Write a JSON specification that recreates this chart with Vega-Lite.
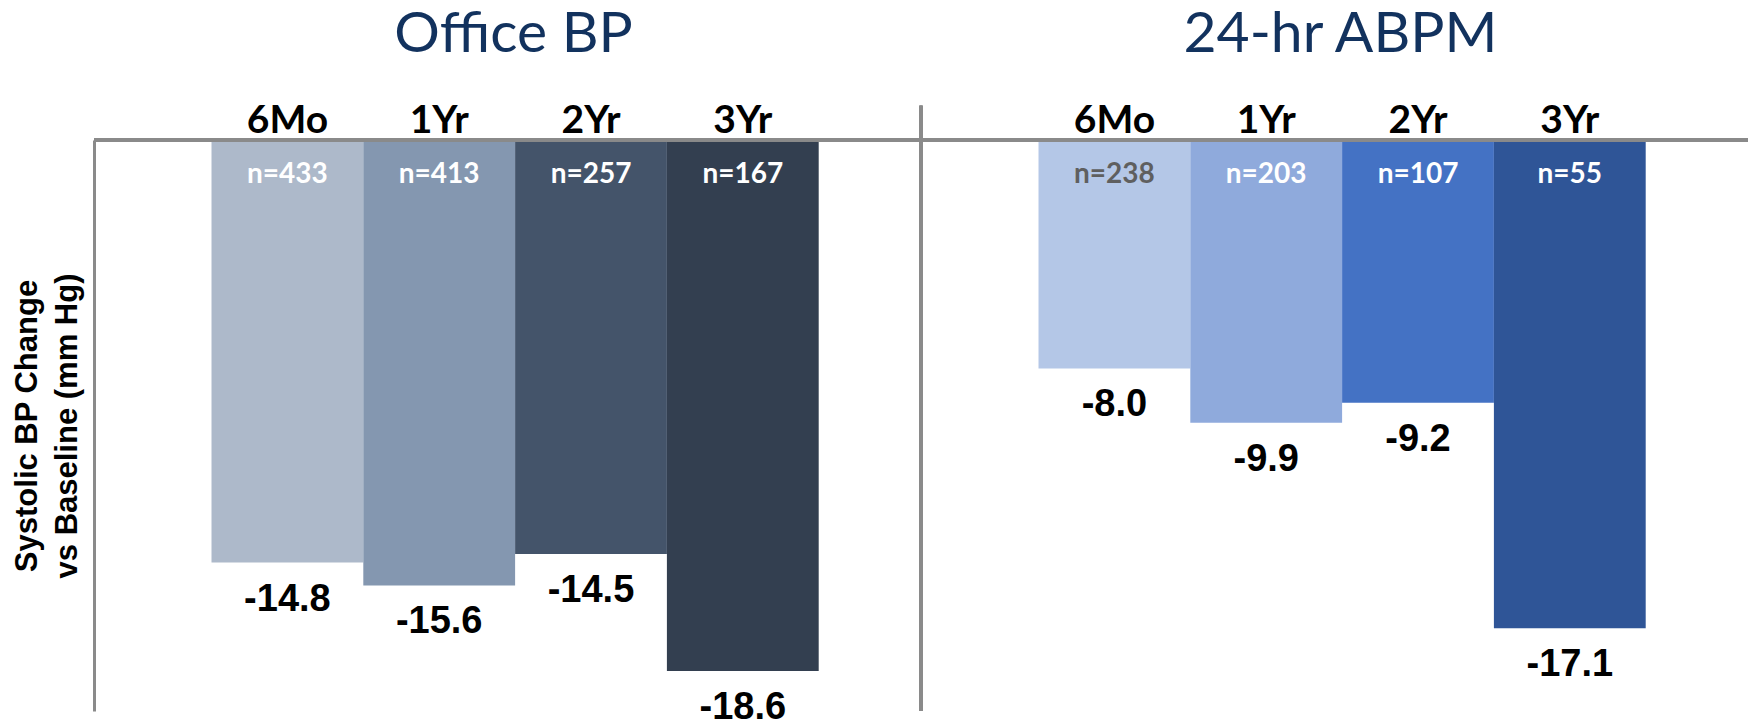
{
  "$schema": "https://vega.github.io/schema/vega-lite/v6.json",
  "width": 1654,
  "height": 571,
  "autosize": {"type": "none"},
  "padding": {"left": 94, "top": 140, "right": 0, "bottom": 13},
  "background": "#ffffff",
  "config": {
    "view": {"stroke": null},
    "locale": {"number": {"decimal": ".", "thousands": ",", "grouping": [3], "currency": ["$", ""], "minus": "-"}}
  },
  "data": {
    "values": [
      {"panel": "Office BP", "period": "6Mo", "series": "Office 6Mo", "value": -14.8, "nLabel": "n=433"},
      {"panel": "Office BP", "period": "1Yr", "series": "Office 1Yr", "value": -15.6, "nLabel": "n=413"},
      {"panel": "Office BP", "period": "2Yr", "series": "Office 2Yr", "value": -14.5, "nLabel": "n=257"},
      {"panel": "Office BP", "period": "3Yr", "series": "Office 3Yr", "value": -18.6, "nLabel": "n=167"},
      {"panel": "24-hr ABPM", "period": "6Mo", "series": "ABPM 6Mo", "value": -8.0, "nLabel": "n=238"},
      {"panel": "24-hr ABPM", "period": "1Yr", "series": "ABPM 1Yr", "value": -9.9, "nLabel": "n=203"},
      {"panel": "24-hr ABPM", "period": "2Yr", "series": "ABPM 2Yr", "value": -9.2, "nLabel": "n=107"},
      {"panel": "24-hr ABPM", "period": "3Yr", "series": "ABPM 3Yr", "value": -17.1, "nLabel": "n=55"}
    ]
  },
  "layer": [
    {
      "mark": {"type": "bar"},
      "encoding": {
        "x": {"field": "panel", "type": "nominal", "scale": {"domain": ["Office BP", "24-hr ABPM"], "paddingInner": 0, "paddingOuter": 0}, "axis": null},
        "xOffset": {"field": "period", "type": "nominal", "scale": {"domain": ["6Mo", "1Yr", "2Yr", "3Yr"], "paddingInner": 0, "paddingOuter": 0.724, "align": 0.5346}},
        "y": {
          "field": "value", "type": "quantitative",
          "scale": {"domain": [-20, 0], "nice": false},
          "title": ["Systolic BP Change", "vs Baseline (mm Hg)"],
          "axis": {
            "labels": false, "ticks": false, "grid": false,
            "domain": true, "domainColor": "#8a8a8a", "domainWidth": 3,
            "title": ["Systolic BP Change", "vs Baseline (mm Hg)"],
            "titleFont": "Liberation Sans", "titleFontSize": 31, "titleFontWeight": "bold",
            "titleColor": "#000000", "titleLineHeight": 40, "titlePadding": 11
          }
        },
        "color": {
          "field": "series", "type": "nominal", "legend": null,
          "scale": {
            "domain": ["Office 6Mo", "Office 1Yr", "Office 2Yr", "Office 3Yr", "ABPM 6Mo", "ABPM 1Yr", "ABPM 2Yr", "ABPM 3Yr"],
            "range": ["#adb9ca", "#8497b0", "#44546a", "#333f50", "#b4c7e7", "#8faadc", "#4472c4", "#2f5597"]
          }
        }
      }
    },
    {
      "mark": {"type": "rule", "color": "#8a8a8a", "strokeWidth": 3},
      "encoding": {"y": {"datum": 0}}
    },
    {
      "mark": {"type": "rule", "color": "#8a8a8a", "strokeWidth": 3},
      "encoding": {
        "x": {"datum": "24-hr ABPM", "type": "nominal", "bandPosition": 0},
        "y": {"datum": 1.2},
        "y2": {"datum": -20}
      }
    },
    {
      "mark": {"type": "text", "font": "Lato", "fontWeight": "bold", "fontSize": 28, "baseline": "alphabetic", "align": "center", "dy": 43},
      "encoding": {
        "x": {"field": "panel", "type": "nominal"},
        "xOffset": {"field": "period", "type": "nominal"},
        "y": {"datum": 0},
        "text": {"field": "nLabel"},
        "color": {"condition": {"test": "datum.panel === '24-hr ABPM' && datum.period === '6Mo'", "value": "#5f5f5f"}, "value": "#ffffff"}
      }
    },
    {
      "mark": {"type": "text", "font": "Liberation Sans", "fontWeight": "bold", "fontSize": 38, "baseline": "alphabetic", "align": "center", "dy": 48, "color": "#000000"},
      "encoding": {
        "x": {"field": "panel", "type": "nominal"},
        "xOffset": {"field": "period", "type": "nominal"},
        "y": {"field": "value", "type": "quantitative"},
        "text": {"field": "value", "type": "quantitative", "format": ".1f"}
      }
    },
    {
      "mark": {"type": "text", "font": "Lato", "fontWeight": "bold", "fontSize": 39, "baseline": "alphabetic", "align": "center", "dy": -7, "color": "#000000"},
      "encoding": {
        "x": {"field": "panel", "type": "nominal"},
        "xOffset": {"field": "period", "type": "nominal"},
        "y": {"datum": 0},
        "text": {"field": "period"}
      }
    },
    {
      "data": {"values": [{"panel": "Office BP"}, {"panel": "24-hr ABPM"}]},
      "mark": {"type": "text", "font": "Lato", "fontSize": 57, "baseline": "alphabetic", "align": "center", "dy": -88, "dx": 6, "color": "#12325e"},
      "encoding": {
        "x": {"field": "panel", "type": "nominal"},
        "y": {"datum": 0},
        "text": {"field": "panel"}
      }
    }
  ]
}
